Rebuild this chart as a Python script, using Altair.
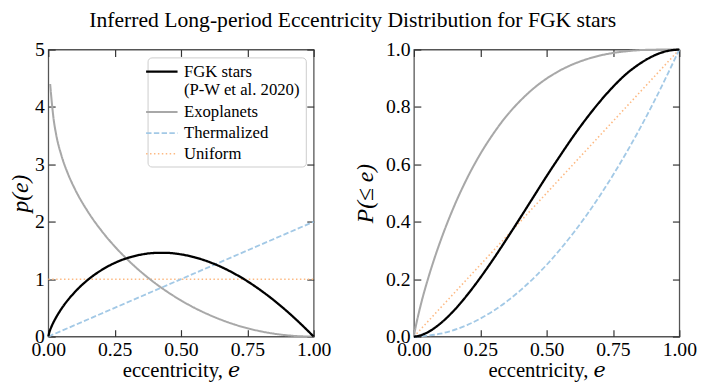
import altair as alt
import pandas as pd

# ---------------- data ----------------
series_order = ["FGK stars", "Exoplanets", "Thermalized", "Uniform"]
series_colors = ["#000000", "#a8a8a8", "#a3c9e6", "#fdb982"]

x_ticks = [0.0, 0.25, 0.5, 0.75, 1.0]
pdf_ticks = [0, 1, 2, 3, 4, 5]
cdf_ticks = [0.0, 0.2, 0.4, 0.6, 0.8, 1.0]

# FGK stars (P-W et al. 2020)
e_fgk = [0, 0.005, 0.01, 0.02, 0.03, 0.05, 0.1, 0.15, 0.2, 0.25, 0.3, 0.35, 0.4,
         0.45, 0.5, 0.55, 0.6, 0.65, 0.7, 0.75, 0.8, 0.85, 0.9, 0.95, 1.0]
fgk_pdf = [0, 0.091, 0.152, 0.253, 0.339, 0.487, 0.775, 0.992, 1.157, 1.282, 1.371,
           1.428, 1.456, 1.457, 1.432, 1.383, 1.310, 1.216, 1.100, 0.964, 0.807,
           0.632, 0.438, 0.226, 0]
fgk_cdf = [0, 0.0003, 0.0009, 0.003, 0.006, 0.014, 0.046, 0.090, 0.144, 0.205, 0.271,
           0.341, 0.413, 0.486, 0.559, 0.629, 0.697, 0.760, 0.818, 0.870, 0.915,
           0.950, 0.977, 0.994, 1.0]

# Exoplanets
e_exo_pdf = [0.007, 0.01, 0.02, 0.03, 0.05, 0.075, 0.1, 0.15, 0.2, 0.25, 0.3, 0.35,
             0.4, 0.45, 0.5, 0.55, 0.6, 0.65, 0.7, 0.75, 0.8, 0.85, 0.9, 0.95, 1.0]
exo_pdf = [4.40, 4.24, 3.79, 3.51, 3.147, 2.825, 2.572, 2.170, 1.846, 1.572, 1.334,
           1.124, 0.939, 0.775, 0.630, 0.502, 0.391, 0.295, 0.213, 0.146, 0.092,
           0.051, 0.022, 0.005, 0]
e_exo_cdf = [0, 0.005, 0.01, 0.02, 0.03, 0.05, 0.075, 0.1, 0.15, 0.2, 0.25, 0.3,
             0.35, 0.4, 0.45, 0.5, 0.55, 0.6, 0.65, 0.7, 0.75, 0.8, 0.85, 0.9, 0.95, 1.0]
exo_cdf = [0, 0.027, 0.049, 0.089, 0.126, 0.192, 0.266, 0.333, 0.451, 0.551, 0.636,
           0.708, 0.770, 0.821, 0.864, 0.899, 0.927, 0.949, 0.966, 0.979, 0.988,
           0.994, 0.998, 0.9995, 1.0, 1.0]

# Thermalized
e_lin = [0.0, 1.0]
thermal_pdf = [0.0, 2.0]
e_thermal_cdf = [0, 0.1, 0.2, 0.3, 0.4, 0.5, 0.6, 0.7, 0.8, 0.9, 1.0]
thermal_cdf = [0, 0.01, 0.04, 0.09, 0.16, 0.25, 0.36, 0.49, 0.64, 0.81, 1.0]

# Uniform
uniform_pdf = [1.0, 1.0]
uniform_cdf = [0.0, 1.0]


def frame(name, es, vs):
    return pd.DataFrame({"e": es, "v": vs, "series": name})


pdf_df = pd.concat([
    frame("Uniform", e_lin, uniform_pdf),
    frame("Thermalized", e_lin, thermal_pdf),
    frame("Exoplanets", e_exo_pdf, exo_pdf),
    frame("FGK stars", e_fgk, fgk_pdf),
], ignore_index=True)

cdf_df = pd.concat([
    frame("Uniform", e_lin, uniform_cdf),
    frame("Thermalized", e_thermal_cdf, thermal_cdf),
    frame("Exoplanets", e_exo_cdf, exo_cdf),
    frame("FGK stars", e_fgk, fgk_cdf),
], ignore_index=True)

FONT = "Liberation Serif"
XTITLE_FONT = "Liberation Serif, DejaVu Serif"
W, H = 270, 292
TICK = dict(offset=-7, tickSize=7, domain=False, grid=False,
            tickColor="#333333", tickWidth=1.2)


def panel(df, ymax, yticks, yfmt, ytitle, ytitle_pad, legend):
    xs = alt.Scale(domain=[0, 1], nice=False, zero=False)
    ys = alt.Scale(domain=[0, ymax], nice=False, zero=False)
    leg = None
    if legend:
        leg = alt.Legend(
            title=None, orient="top-right", offset=8,
            symbolType="M-2,0H2", symbolSize=256, symbolOffset=0,
            labelFont=FONT, labelFontSize=17, labelColor="#000",
            labelExpr="datum.label == 'FGK stars' ? ['FGK stars', '(P-W et al. 2020)'] : datum.label",
            labelOffset=13, rowPadding=4, padding=5,
            fillColor="white", strokeColor="#cccccc", cornerRadius=4,
        )
    lines = alt.Chart(df).mark_line(interpolate="monotone", clip=False).encode(
        x=alt.X("e:Q", scale=xs, axis=alt.Axis(
            orient="bottom", values=x_ticks, format=".2f", labelFlush=False,
            labelOverlap=False, labelFont=FONT, labelFontSize=20, labelPadding=3,
            labelColor="#000", title="eccentricity, 𝑒", titleFont=XTITLE_FONT,
            titleFontSize=21, titleFontWeight="normal", titleColor="#000",
            titlePadding=1, **TICK)),
        y=alt.Y("v:Q", scale=ys, axis=alt.Axis(
            orient="left", values=yticks, format=yfmt, labelFlush=False,
            labelOverlap=False, labelFont=FONT, labelFontSize=20, labelPadding=4,
            labelColor="#000", title=ytitle, titleFont=FONT, titleFontSize=24,
            titleFontStyle="italic", titleFontWeight="normal", titleColor="#000",
            titlePadding=ytitle_pad, **TICK)),
        color=alt.Color("series:N", scale=alt.Scale(domain=series_order, range=series_colors),
                        legend=leg),
        strokeDash=alt.StrokeDash("series:N", scale=alt.Scale(
            domain=series_order, range=[[1, 0], [1, 0], [5.5, 2.4], [1.5, 2.5]]),
            legend=leg),
        strokeWidth=alt.StrokeWidth("series:N", scale=alt.Scale(
            domain=series_order, range=[2.3, 1.6, 1.6, 1.6]), legend=leg),
    )
    mirror = alt.Chart(df).mark_line(opacity=0).encode(
        x=alt.X("e:Q", scale=xs, axis=alt.Axis(
            orient="top", values=x_ticks, labels=False, title=None,
            minExtent=0, maxExtent=0, **TICK)),
        y=alt.Y("v:Q", scale=ys, axis=alt.Axis(
            orient="right", values=yticks, labels=False, title=None,
            minExtent=0, maxExtent=0, **TICK)),
    )
    return alt.layer(mirror, lines).resolve_axis(x="independent", y="independent").properties(
        width=W, height=H)


left = panel(pdf_df, 5, pdf_ticks, "d", "p(e)", 2, True)
right = panel(cdf_df, 1, cdf_ticks, ".1f", "P(≤ e)", 8, False)

chart = alt.hconcat(left, right, spacing=21).resolve_scale(
    color="independent", strokeDash="independent", strokeWidth="independent"
).resolve_legend(
    color="independent", strokeDash="independent", strokeWidth="independent"
).properties(
    title=alt.TitleParams(
        text="Inferred Long-period Eccentricity Distribution for FGK stars",
        font=FONT, fontSize=22, fontWeight="normal", color="#000",
        anchor="middle", offset=7),
    padding={"left": 0, "right": 0, "top": -2, "bottom": 0},
).configure(font=FONT).configure_axis(
    labelFont=FONT
).configure_legend(labelFont=FONT, titleFont=FONT).configure_title(
    font=FONT
).configure_view(stroke="#555555", strokeWidth=1.3)

chart.save("out.html", embed_options={"renderer": "svg", "actions": False})
